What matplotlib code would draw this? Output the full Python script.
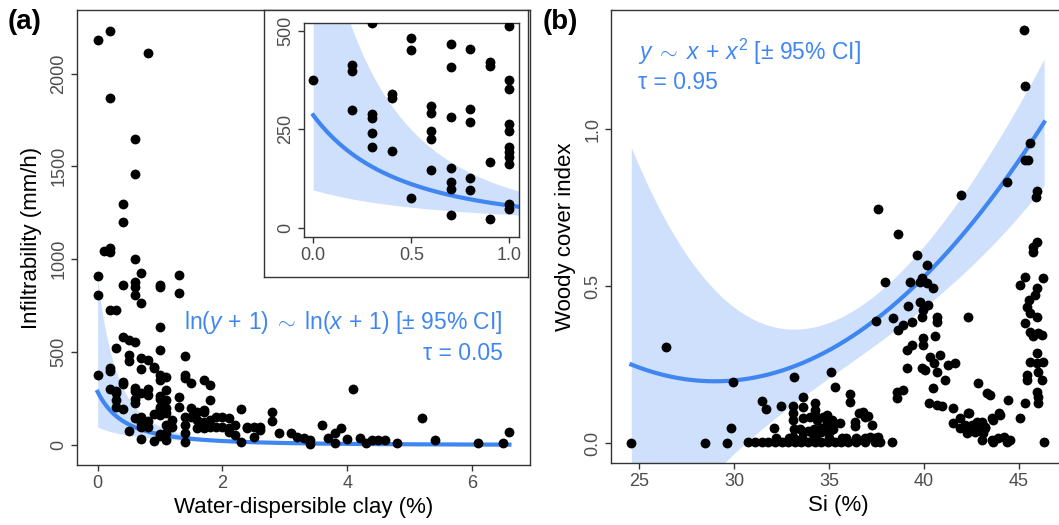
# Infiltrability vs water-dispersible clay (a) and woody cover vs Si (b)
import numpy as np
import matplotlib.pyplot as plt

plt.rcParams['font.family'] = ['Liberation Sans', 'DejaVu Sans']
plt.rcParams['mathtext.fontset'] = 'custom'
plt.rcParams['mathtext.rm'] = 'Liberation Sans'
plt.rcParams['mathtext.it'] = 'Liberation Sans:italic'

# ---- panel (a) data: water-dispersible clay (%) vs infiltrability (mm/h)
clay_pct = [
    0, 0, 0, 0,
    0.1,
    0.2, 0.2, 0.2, 0.2, 0.2, 0.2, 0.2, 0.2,
    0.3, 0.3, 0.3, 0.3, 0.3, 0.3,
    0.4, 0.4, 0.4, 0.4, 0.4, 0.4, 0.4,
    0.5, 0.5, 0.5, 0.5,
    0.6, 0.6, 0.6, 0.6, 0.6, 0.6, 0.6, 0.6, 0.6, 0.6, 0.6, 0.6,
    0.7, 0.7, 0.7, 0.7, 0.7, 0.7, 0.7, 0.7, 0.7,
    0.8, 0.8, 0.8, 0.8, 0.8, 0.8,
    0.9, 0.9, 0.9, 0.9,
    1.0, 1.0, 1.0, 1.0, 1.0, 1.0, 1.0, 1.0, 1.0, 1.0, 1.0, 1.0, 1.0, 1.0,
    1.1, 1.1, 1.1, 1.1, 1.1, 1.1, 1.1, 1.1,
    1.2, 1.2,
    1.3, 1.3, 1.3, 1.3,
    1.4, 1.4, 1.4, 1.4, 1.4, 1.4, 1.4,
    1.5, 1.5, 1.5,
    1.6, 1.6, 1.6,
    1.7, 1.7, 1.7, 1.7, 1.7,
    1.8, 1.8, 1.8, 1.8,
    1.9, 1.9, 2.0, 2.0, 2.1, 2.1, 2.1, 2.2, 2.2, 2.3, 2.3,
    2.4, 2.4, 2.5, 2.5, 2.6, 2.6, 2.8, 2.8,
    2.9, 3.1, 3.2, 3.3, 3.4, 3.4, 3.6, 3.7, 3.8, 3.8, 3.9, 4.0,
    4.1, 4.2, 4.3, 4.4, 4.5, 4.6, 4.8, 5.2, 5.4, 6.1, 6.5, 6.6,
]
infil = [
    2180, 910, 808, 375,
    1045,
    2230, 1870, 1060, 1040, 727, 415, 400, 299,
    727, 520, 290, 278, 242, 206,
    1300, 1200, 862, 580, 339, 329, 195,
    565, 484, 452, 75,
    1650, 1460, 1000, 880, 852, 808, 556, 309, 292, 246, 225, 147,
    925, 763, 467, 409, 282, 151, 117, 98, 32,
    2110, 456, 301, 269, 127, 96,
    422, 412, 166, 21,
    862, 850, 637, 513, 377, 352, 264, 247, 206, 193, 180, 162, 60, 47,
    368, 296, 242, 197, 170, 108, 63, 27,
    135, 99,
    917, 817, 260, 206,
    479, 377, 359, 152, 108, 63, 18,
    335, 197, 152,
    179, 135, 90,
    350, 188, 179, 126, 90,
    323, 242, 135, 99,
    152, 99, 152, 99, 144, 90, 72, 108, 54, 192, 18,
    99, 90, 99, 45, 99, 81, 179, 130,
    63, 63, 45, 36, 27, 3, 110, 40, 63, 13, 90, 30,
    300, 36, 13, 27, 27, 27, 9, 144, 27, 9, 9, 72,
]

# quantile fit ln(y+1) = a + b ln(x+1), tau = 0.05, with CI bounds
fit_a, fit_b = 5.66, -2.33
ci_hi_a, ci_hi_b = 6.80, -3.15
ci_lo_a, ci_lo_b = 4.575, -1.50

# ---- panel (b) data: Si (%) vs woody cover index
si_pct = [
    24.6, 26.4, 28.45, 29.65, 29.93, 29.84,
    31.5, 31.7, 32.45, 32.1, 33.15,
    33.1, 33.1, 33.1, 33.1, 33.65, 33.65, 34.26, 34.26,
    33.65, 34.0, 34.35, 34.7, 34.88, 35.23, 35.58,
    33.15, 33.5, 33.9, 34.2, 34.6, 34.9, 35.2,
    35.09, 35.3, 36.1, 36.1, 36.37, 36.37, 36.8, 37.07, 37.25,
    36.6, 36.9, 37.16, 37.6, 38.3,
    34.26, 34.88, 35.14, 33.65, 34.17, 34.6, 35.05,
    30.75, 31.1, 31.46, 31.8, 32.16, 32.51, 32.86, 33.21, 33.55, 33.9,
    34.25, 34.6, 34.95, 35.3, 35.65, 36.0, 36.4, 36.9, 37.4, 37.7,
    32.2, 32.9, 33.6, 34.3, 35.0, 35.7, 35.9, 36.4, 36.9, 37.4,
    # middle cluster
    37.6, 38.65, 37.95, 37.46, 38.35, 38.65, 38.91, 39.35, 39.17, 39.65,
    40.14, 39.26, 39.79, 39.88, 40.14, 40.49, 39.79, 40.23, 39.88, 39.97,
    40.67, 40.67, 39.09, 39.35, 39.09, 39.93, 39.96, 40.58, 39.88, 40.05,
    40.3, 40.84, 40.5, 40.67, 41.1, 40.49, 41.28, 41.63, 38.56, 38.56,
    38.91, 40.28, 40.67, 40.93, 41.54,
    # right cluster
    41.5, 41.9, 42.16, 42.42, 42.68, 41.9, 42.25, 42.37, 42.86, 42.33,
    41.95, 43.3, 43.47, 43.05, 43.6, 43.88, 44.2, 44.5, 43.56, 43.96,
    44.44, 45.05, 44.35, 43.04, 43.21, 42.51, 42.77, 42.86, 43.12, 43.21,
    44.0, 43.65, 42.33, 43.65, 44.35,
    # far right column
    45.28, 45.3, 45.58, 45.3, 45.49, 45.96, 45.9, 45.93, 45.75, 45.72,
    45.3, 46.28, 45.05, 45.93, 45.84, 45.54, 45.4, 45.58, 45.93, 45.3,
    45.58, 45.75, 46.02, 46.19, 45.93, 45.58, 45.93, 46.28, 45.44, 45.44,
    46.02, 46.19, 45.93, 46.02, 46.02, 45.3, 46.32,
]
woody = [
    0.0, 0.306, 0.0, 0.0, 0.195, 0.05,
    0.135, 0.11, 0.118, 0.05, 0.21,
    0.117, 0.095, 0.074, 0.02, 0.148, 0.115, 0.127, 0.106,
    0.08, 0.085, 0.074, 0.085, 0.064, 0.069, 0.064,
    0.045, 0.045, 0.04, 0.045, 0.05, 0.04, 0.045,
    0.228, 0.18, 0.157, 0.13, 0.069, 0.055, 0.1, 0.088, 0.057,
    0.095, 0.085, 0.021, 0.021, 0.005,
    0.09, 0.09, 0.074, 0.035, 0.03, 0.035, 0.04,
    0.003, 0.003, 0.003, 0.003, 0.003, 0.003, 0.003, 0.003, 0.003, 0.003,
    0.003, 0.003, 0.003, 0.003, 0.003, 0.003, 0.003, 0.003, 0.003, 0.003,
    0.018, 0.018, 0.018, 0.018, 0.018, 0.018, 0.018, 0.018, 0.018, 0.018,
    0.746, 0.666, 0.515, 0.39, 0.398, 0.361, 0.377, 0.387, 0.437, 0.6,
    0.568, 0.515, 0.515, 0.525, 0.51, 0.494, 0.451, 0.44, 0.403, 0.425,
    0.403, 0.387, 0.297, 0.313, 0.239, 0.334, 0.313, 0.34, 0.239, 0.233,
    0.276, 0.281, 0.255, 0.228, 0.2, 0.175, 0.249, 0.257, 0.164, 0.143,
    0.17, 0.127, 0.122, 0.119, 0.111,
    0.064, 0.08, 0.058, 0.042, 0.037, 0.048, 0.032, 0.097, 0.191, 0.403,
    0.791, 0.159, 0.154, 0.01, 0.01, 0.016, 0.02, 0.01, 0.08, 0.096,
    0.138, 0.08, 0.833, 0.069, 0.048, 0.058, 0.069, 0.048, 0.032, 0.053,
    0.09, 0.074, 0.095, 0.005, 0.005,
    1.316, 1.138, 0.957, 0.902, 0.902, 0.803, 0.785, 0.642, 0.626, 0.608,
    0.531, 0.525, 0.504, 0.494, 0.472, 0.456, 0.435, 0.414, 0.403, 0.382,
    0.355, 0.34, 0.35, 0.345, 0.287, 0.26, 0.255, 0.26, 0.218, 0.202,
    0.228, 0.202, 0.164, 0.148, 0.127, 0.127, 0.005,
]

# quadratic quantile fit (tau = 0.95): y = c0 + c1 x + c2 x^2
quad_c = [2.510, -0.1595, 0.00275]
# half-width of the 95% CI band read at several Si values
band_si = [24.6, 27, 30, 33.5, 35.6, 37.7, 40, 44.35, 46.4]
band_hw = [0.69, 0.44, 0.24, 0.104, 0.077, 0.08, 0.115, 0.15, 0.21]

BLUE = '#3F86F1'
EDGE = '#333333'
TICKC = '#4D4D4D'
W, H = 1059, 525


def style(ax, xlim, ylim, xticks, yticks, xlabs=None, ylabs=None):
    ax.set_xlim(xlim)
    ax.set_ylim(ylim)
    ax.set_xticks(xticks)
    ax.set_yticks(yticks)
    if xlabs:
        ax.set_xticklabels(xlabs)
    if ylabs:
        ax.set_yticklabels(ylabs)
    for sp in ax.spines.values():
        sp.set_color(EDGE)
        sp.set_linewidth(1.0)
    ax.tick_params(direction='out', length=4, width=1.0, color=EDGE,
                   labelcolor=TICKC, labelsize=13, pad=3)
    ax.tick_params(axis='y', labelrotation=90)
    for lab in ax.get_yticklabels():
        lab.set_va('center')


fig = plt.figure(figsize=(W / 100, H / 100), dpi=100)

# ---------------- panel (a)
ax1 = fig.add_axes([77 / W, 1 - 465 / H, 453 / W, 455 / H])
xa = np.linspace(0, max(clay_pct), 300)
ln1 = np.log(xa + 1)
ax1.fill_between(xa, np.exp(ci_lo_a + ci_lo_b * ln1) - 1,
                 np.exp(ci_hi_a + ci_hi_b * ln1) - 1,
                 color=BLUE, alpha=0.25, lw=0)
ax1.plot(xa, np.exp(fit_a + fit_b * ln1) - 1, color=BLUE, lw=3)
ax1.scatter(clay_pct, infil, s=50, c='black', lw=0, zorder=3)
style(ax1, (-0.33, 6.93), (-108, 2342), [0, 2, 4, 6], [0, 500, 1000, 1500, 2000])
ax1.set_xlabel('Water-dispersible clay (%)', fontsize=16, labelpad=4)
ax1.set_ylabel('Infiltrability (mm/h)', fontsize=16, labelpad=6)
ax1.text(6.49, 657,
         r'$\mathrm{ln}(y\,+\,1)\;\sim\;\mathrm{ln}(x\,+\,1)$ [± 95% CI]',
         ha='right', va='center', color=BLUE, fontsize=16.5)
ax1.text(6.49, 495, 'τ = 0.05', ha='right', va='center', color=BLUE, fontsize=16.5)

# inset box + inset axes
box = fig.add_axes([264 / W, 1 - 277 / H, 264 / W, 267 / H])
box.set_xticks([])
box.set_yticks([])
for sp in box.spines.values():
    sp.set_color(EDGE)
    sp.set_linewidth(1.0)

ins = fig.add_axes([304 / W, 1 - 237 / H, 215 / W, 214 / H])
xi = np.linspace(0, 1.05, 200)
lni = np.log(xi + 1)
ins.fill_between(xi, np.exp(ci_lo_a + ci_lo_b * lni) - 1,
                 np.exp(ci_hi_a + ci_hi_b * lni) - 1,
                 color=BLUE, alpha=0.25, lw=0)
ins.plot(xi, np.exp(fit_a + fit_b * lni) - 1, color=BLUE, lw=3)
ins.scatter(clay_pct, infil, s=50, c='black', lw=0, zorder=3)
style(ins, (-0.047, 1.049), (-24, 521), [0, 0.5, 1.0], [0, 250, 500],
      xlabs=['0.0', '0.5', '1.0'])

# ---------------- panel (b)
ax2 = fig.add_axes([611 / W, 1 - 463 / H, 455 / W, 453 / H])
xb = np.linspace(min(si_pct), max(si_pct), 300)
yb = quad_c[0] + quad_c[1] * xb + quad_c[2] * xb ** 2
hw = np.polyval(np.polyfit(band_si, band_hw, 4), xb)
ax2.fill_between(xb, yb - hw, yb + hw, color=BLUE, alpha=0.25, lw=0)
ax2.plot(xb, yb, color=BLUE, lw=3)
ax2.scatter(si_pct, woody, s=50, c='black', lw=0, zorder=3)
style(ax2, (23.53, 47.47), (-0.063, 1.380), [25, 30, 35, 40, 45], [0, 0.5, 1.0],
      ylabs=['0.0', '0.5', '1.0'])
ax2.set_xlabel('Si (%)', fontsize=16, labelpad=4)
ax2.set_ylabel('Woody cover index', fontsize=16, labelpad=6)
ax2.text(24.95, 1.246, r'$y\;\sim\;x\,+\,x^2$ [± 95% CI]', ha='left', va='center',
         color=BLUE, fontsize=16.5)
ax2.text(24.95, 1.148, 'τ = 0.95', ha='left', va='center', color=BLUE, fontsize=16.5)

fig.text(8 / W, 1 - 22 / H, '(a)', fontsize=20, fontweight='bold', va='center')
fig.text(543 / W, 1 - 22 / H, '(b)', fontsize=20, fontweight='bold', va='center')

fig.savefig('out.png', dpi=100)
